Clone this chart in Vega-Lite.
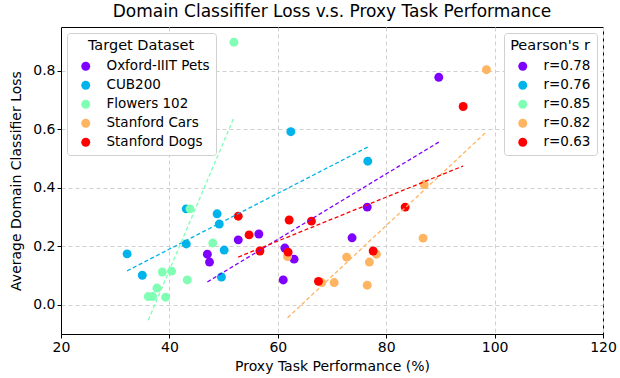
{
  "$schema": "https://vega.github.io/schema/vega-lite/v6.json",
  "width": 542,
  "height": 307,
  "autosize": {"type": "none"},
  "padding": {"left": 61, "top": 27, "right": 17, "bottom": 44},
  "background": "white",
  "config": {
    "font": "DejaVu Sans",
    "view": {"stroke": "black", "strokeWidth": 1},
    "axis": {
      "domainColor": "black",
      "tickColor": "black",
      "tickSize": 4,
      "labelFontSize": 14,
      "labelColor": "black",
      "labelFlush": false,
      "titleFontSize": 14,
      "titleFontWeight": "normal",
      "titleColor": "black",
      "gridColor": "#d0d0d0",
      "gridDash": [4, 3],
      "gridWidth": 1
    },
    "legend": {
      "strokeColor": "#d0d0d0",
      "fillColor": "white",
      "cornerRadius": 3,
      "padding": 6,
      "labelFontSize": 13.5,
      "titleFontSize": 14.5,
      "titleFontWeight": "normal",
      "labelColor": "black",
      "titleColor": "black",
      "symbolSize": 80,
      "symbolOffset": 6,
      "rowPadding": 4,
      "titlePadding": 6,
      "titleAnchor": "middle",
      "labelOffset": 14
    }
  },
  "title": {"text": "Domain Classififer Loss v.s. Proxy Task Performance", "fontSize": 17, "fontWeight": "normal", "color": "black", "offset": 6},
  "data": {
    "values": [
      {"dataset": "Oxford-IIIT Pets", "r": "r=0.78", "x": 89.7, "y": 0.778},
      {"dataset": "Oxford-IIIT Pets", "r": "r=0.78", "x": 76.5, "y": 0.334},
      {"dataset": "Oxford-IIIT Pets", "r": "r=0.78", "x": 73.7, "y": 0.229},
      {"dataset": "Oxford-IIIT Pets", "r": "r=0.78", "x": 56.5, "y": 0.242},
      {"dataset": "Oxford-IIIT Pets", "r": "r=0.78", "x": 52.7, "y": 0.222},
      {"dataset": "Oxford-IIIT Pets", "r": "r=0.78", "x": 47.0, "y": 0.173},
      {"dataset": "Oxford-IIIT Pets", "r": "r=0.78", "x": 47.4, "y": 0.146},
      {"dataset": "Oxford-IIIT Pets", "r": "r=0.78", "x": 61.3, "y": 0.194},
      {"dataset": "Oxford-IIIT Pets", "r": "r=0.78", "x": 63.0, "y": 0.156},
      {"dataset": "Oxford-IIIT Pets", "r": "r=0.78", "x": 61.0, "y": 0.085},
      {"dataset": "CUB200", "r": "r=0.76", "x": 62.4, "y": 0.592},
      {"dataset": "CUB200", "r": "r=0.76", "x": 76.6, "y": 0.491},
      {"dataset": "CUB200", "r": "r=0.76", "x": 32.2, "y": 0.174},
      {"dataset": "CUB200", "r": "r=0.76", "x": 35.0, "y": 0.101},
      {"dataset": "CUB200", "r": "r=0.76", "x": 43.1, "y": 0.328},
      {"dataset": "CUB200", "r": "r=0.76", "x": 48.8, "y": 0.311},
      {"dataset": "CUB200", "r": "r=0.76", "x": 49.2, "y": 0.276},
      {"dataset": "CUB200", "r": "r=0.76", "x": 43.1, "y": 0.208},
      {"dataset": "CUB200", "r": "r=0.76", "x": 50.1, "y": 0.187},
      {"dataset": "CUB200", "r": "r=0.76", "x": 49.6, "y": 0.095},
      {"dataset": "Flowers 102", "r": "r=0.85", "x": 51.9, "y": 0.898},
      {"dataset": "Flowers 102", "r": "r=0.85", "x": 43.8, "y": 0.328},
      {"dataset": "Flowers 102", "r": "r=0.85", "x": 48.0, "y": 0.211},
      {"dataset": "Flowers 102", "r": "r=0.85", "x": 38.7, "y": 0.112},
      {"dataset": "Flowers 102", "r": "r=0.85", "x": 40.4, "y": 0.115},
      {"dataset": "Flowers 102", "r": "r=0.85", "x": 43.3, "y": 0.085},
      {"dataset": "Flowers 102", "r": "r=0.85", "x": 37.7, "y": 0.057},
      {"dataset": "Flowers 102", "r": "r=0.85", "x": 36.1, "y": 0.028},
      {"dataset": "Flowers 102", "r": "r=0.85", "x": 36.9, "y": 0.028},
      {"dataset": "Flowers 102", "r": "r=0.85", "x": 39.3, "y": 0.026},
      {"dataset": "Stanford Cars", "r": "r=0.82", "x": 98.5, "y": 0.804},
      {"dataset": "Stanford Cars", "r": "r=0.82", "x": 87.0, "y": 0.411},
      {"dataset": "Stanford Cars", "r": "r=0.82", "x": 86.8, "y": 0.228},
      {"dataset": "Stanford Cars", "r": "r=0.82", "x": 61.8, "y": 0.165},
      {"dataset": "Stanford Cars", "r": "r=0.82", "x": 72.7, "y": 0.163},
      {"dataset": "Stanford Cars", "r": "r=0.82", "x": 76.9, "y": 0.146},
      {"dataset": "Stanford Cars", "r": "r=0.82", "x": 78.2, "y": 0.173},
      {"dataset": "Stanford Cars", "r": "r=0.82", "x": 68.1, "y": 0.076},
      {"dataset": "Stanford Cars", "r": "r=0.82", "x": 70.4, "y": 0.076},
      {"dataset": "Stanford Cars", "r": "r=0.82", "x": 76.5, "y": 0.067},
      {"dataset": "Stanford Dogs", "r": "r=0.63", "x": 94.2, "y": 0.678},
      {"dataset": "Stanford Dogs", "r": "r=0.63", "x": 83.5, "y": 0.334},
      {"dataset": "Stanford Dogs", "r": "r=0.63", "x": 62.1, "y": 0.290},
      {"dataset": "Stanford Dogs", "r": "r=0.63", "x": 66.2, "y": 0.286},
      {"dataset": "Stanford Dogs", "r": "r=0.63", "x": 61.9, "y": 0.180},
      {"dataset": "Stanford Dogs", "r": "r=0.63", "x": 77.6, "y": 0.184},
      {"dataset": "Stanford Dogs", "r": "r=0.63", "x": 67.5, "y": 0.080},
      {"dataset": "Stanford Dogs", "r": "r=0.63", "x": 52.7, "y": 0.303},
      {"dataset": "Stanford Dogs", "r": "r=0.63", "x": 54.7, "y": 0.239},
      {"dataset": "Stanford Dogs", "r": "r=0.63", "x": 56.7, "y": 0.184}
    ]
  },
  "encoding": {
    "x": {"field": "x", "type": "quantitative", "scale": {"domain": [20, 120], "nice": false, "zero": false},
          "axis": {"values": [20, 40, 60, 80, 100, 120], "title": "Proxy Task Performance (%)", "titlePadding": 5}},
    "y": {"field": "y", "type": "quantitative", "scale": {"domain": [-0.1, 0.95], "nice": false, "zero": false},
          "axis": {"values": [0, 0.2, 0.4, 0.6, 0.8], "format": ".1f", "title": "Average Domain Classifier Loss", "titlePadding": 9}}
  },
  "layer": [
    {
      "mark": {"type": "point", "filled": true, "opacity": 1, "size": 80},
      "encoding": {
        "color": {"field": "dataset", "type": "nominal",
          "scale": {"domain": ["Oxford-IIIT Pets", "CUB200", "Flowers 102", "Stanford Cars", "Stanford Dogs"], "range": ["#8000ff", "#00b4eb", "#80ffb4", "#ffb462", "#ff0000"]},
          "legend": {"title": "Target Dataset", "orient": "top-left", "offset": 6}}
      }
    },
    {
      "transform": [{"regression": "y", "on": "x", "groupby": ["dataset"]}],
      "mark": {"type": "line", "strokeDash": [4, 2.5], "strokeWidth": 1.3},
      "encoding": {
        "color": {"field": "dataset", "type": "nominal",
          "scale": {"domain": ["Oxford-IIIT Pets", "CUB200", "Flowers 102", "Stanford Cars", "Stanford Dogs"], "range": ["#8000ff", "#00b4eb", "#80ffb4", "#ffb462", "#ff0000"]},
          "legend": null}
      }
    },
    {
      "mark": {"type": "point", "filled": true, "opacity": 0, "size": 80},
      "encoding": {
        "color": {"field": "r", "type": "nominal",
          "scale": {"domain": ["r=0.78", "r=0.76", "r=0.85", "r=0.82", "r=0.63"], "range": ["#8000ff", "#00b4eb", "#80ffb4", "#ffb462", "#ff0000"]},
          "legend": {"title": "Pearson's r", "orient": "top-right", "offset": 6, "symbolOpacity": 1}}
      }
    }
  ],
  "resolve": {"scale": {"color": "independent"}}
}
